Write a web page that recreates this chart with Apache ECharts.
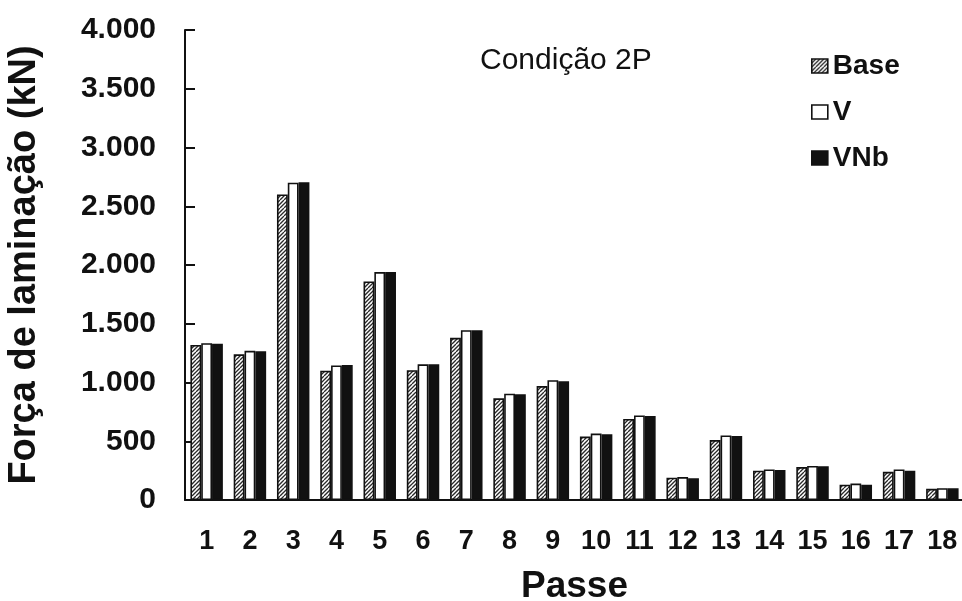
<!DOCTYPE html>
<html>
<head>
<meta charset="utf-8">
<script src="https://cdn.jsdelivr.net/npm/echarts@6/dist/echarts.min.js"></script>
<style>
  html, body { margin: 0; padding: 0; background: #fff; }
  #chart { width: 962px; height: 601px; }
</style>
</head>
<body>
<div id="chart"></div>
<script>
// Rolling force per pass, condition 2P (kN)
const passes = ['1','2','3','4','5','6','7','8','9','10','11','12','13','14','15','16','17','18'];
const base = [1320, 1240, 2600, 1100, 1860, 1105, 1380, 865, 970, 540, 690, 190, 510, 250, 280, 130, 240, 95];
const v    = [1335, 1270, 2700, 1145, 1940, 1155, 1445, 905, 1020, 565, 720, 195, 550, 260, 290, 140, 260, 100];
const vnb  = [1330, 1265, 2705, 1150, 1940, 1155, 1445, 900, 1010, 560, 715, 185, 545, 255, 288, 130, 250, 100];
const yTicks = { min: 0, max: 4000, step: 500 };

// diagonal hatch fill for the Base series
function hatch() {
  const c = document.createElement('canvas');
  c.width = 8; c.height = 8;
  const g = c.getContext('2d');
  g.fillStyle = '#fff';
  g.fillRect(0, 0, 8, 8);
  g.strokeStyle = '#2a2a2a';
  g.lineWidth = 1.3;
  for (let o = -8; o <= 16; o += 4) {
    g.beginPath();
    g.moveTo(o, 8);
    g.lineTo(o + 8, 0);
    g.stroke();
  }
  return c;
}
const hatchFill = { image: hatch(), repeat: 'repeat' };

function fmtThousands(n) {
  if (n < 1000) return String(n);
  const th = Math.floor(n / 1000);
  const rest = String(n % 1000).padStart(3, '0');
  return th + '.' + rest;
}

const font = '"Liberation Sans", Arial, sans-serif';
const edge = { borderColor: '#111', borderWidth: 1.6 };

const chart = echarts.init(document.getElementById('chart'), null, { renderer: 'canvas' });
chart.setOption({
  animation: false,
  backgroundColor: '#fff',
  title: {
    text: 'Condição 2P',
    left: 480, top: 46, padding: 0,
    textStyle: { fontFamily: font, fontSize: 30, fontWeight: 'normal', color: '#111' }
  },
  legend: {
    orient: 'vertical',
    left: 806, top: 47,
    itemWidth: 16, itemHeight: 14, itemGap: 18,
    icon: 'rect',
    textStyle: { fontFamily: font, fontSize: 28, fontWeight: 'bold', color: '#111', lineHeight: 28 },
    data: [
      { name: 'Base', itemStyle: { color: hatchFill, borderColor: '#111', borderWidth: 1.6 } },
      { name: 'V', itemStyle: { color: '#fff', borderColor: '#111', borderWidth: 1.6 } },
      { name: 'VNb', itemStyle: { color: '#111', borderColor: '#111', borderWidth: 1.6 } }
    ]
  },
  grid: { left: 185, top: 30, width: 779, height: 470, containLabel: false, outerBoundsMode: 'none' },
  xAxis: {
    type: 'category',
    data: passes,
    name: 'Passe',
    nameLocation: 'middle',
    nameGap: 68,
    nameTextStyle: { fontFamily: font, fontSize: 37, fontWeight: 'bold', color: '#111' },
    axisLine: { lineStyle: { color: '#111', width: 2 } },
    axisTick: { inside: true, length: 8, lineStyle: { color: '#111', width: 2 } },
    axisLabel: { fontFamily: font, fontSize: 27, fontWeight: 'bold', color: '#111', margin: 28, interval: 0 },
    splitLine: { show: false }
  },
  yAxis: {
    type: 'value',
    min: yTicks.min, max: yTicks.max, interval: yTicks.step,
    name: 'Força de laminação (kN)',
    nameLocation: 'middle',
    nameRotate: 90,
    nameGap: 141,
    nameTextStyle: { fontFamily: font, fontSize: 38, fontWeight: 'bold', color: '#111' },
    axisLine: { show: true, lineStyle: { color: '#111', width: 2 } },
    axisTick: { show: true, inside: true, length: 10, lineStyle: { color: '#111', width: 2 } },
    axisLabel: { fontFamily: font, fontSize: 30, fontWeight: 'bold', color: '#111', margin: 29, formatter: fmtThousands },
    splitLine: { show: false }
  },
  series: [
    { name: 'Base', type: 'bar', data: base, barWidth: '25%', barGap: '0%',
      itemStyle: Object.assign({ color: hatchFill }, edge) },
    { name: 'V', type: 'bar', data: v, barWidth: '25%', barGap: '0%',
      itemStyle: Object.assign({ color: '#fff' }, edge) },
    { name: 'VNb', type: 'bar', data: vnb, barWidth: '25%', barGap: '0%',
      itemStyle: Object.assign({ color: '#111' }, edge) }
  ]
});
</script>
</body>
</html>
